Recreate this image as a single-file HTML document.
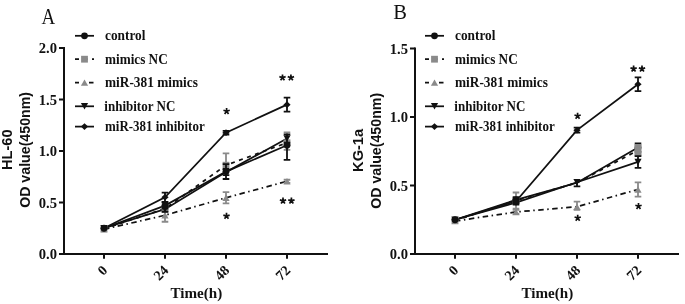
<!DOCTYPE html>
<html><head><meta charset="utf-8"><style>
html,body{margin:0;padding:0;background:#fff;}
svg{display:block;will-change:transform;filter:blur(0.35px);}
</style></head><body>
<svg width="685" height="304" viewBox="0 0 685 304">
<rect width="685" height="304" fill="#fff"/>
<text transform="translate(48.45,23.6) scale(0.85,1)" text-anchor="middle" font-family="Liberation Serif, serif" font-size="22.3" fill="#111">A</text>
<path d="M64,47V255M63,254H328" stroke="#111" stroke-width="2" fill="none"/>
<path d="M59,48H64" stroke="#111" stroke-width="2"/>
<text x="57" y="53.1" text-anchor="end" font-family="Liberation Serif, serif" font-weight="bold" font-size="14.6" fill="#111">2.0</text>
<path d="M59,99.5H64" stroke="#111" stroke-width="2"/>
<text x="57" y="104.6" text-anchor="end" font-family="Liberation Serif, serif" font-weight="bold" font-size="14.6" fill="#111">1.5</text>
<path d="M59,151H64" stroke="#111" stroke-width="2"/>
<text x="57" y="156.1" text-anchor="end" font-family="Liberation Serif, serif" font-weight="bold" font-size="14.6" fill="#111">1.0</text>
<path d="M59,202.5H64" stroke="#111" stroke-width="2"/>
<text x="57" y="207.6" text-anchor="end" font-family="Liberation Serif, serif" font-weight="bold" font-size="14.6" fill="#111">0.5</text>
<path d="M59,254H64" stroke="#111" stroke-width="2"/>
<text x="57" y="259.1" text-anchor="end" font-family="Liberation Serif, serif" font-weight="bold" font-size="14.6" fill="#111">0.0</text>
<path d="M104,254V258.7" stroke="#111" stroke-width="2"/>
<text transform="translate(108.3,271.3) rotate(-45)" text-anchor="end" font-family="Liberation Serif, serif" font-weight="bold" font-size="14.2" fill="#111">0</text>
<path d="M165,254V258.7" stroke="#111" stroke-width="2"/>
<text transform="translate(169.3,271.3) rotate(-45)" text-anchor="end" font-family="Liberation Serif, serif" font-weight="bold" font-size="14.2" fill="#111">24</text>
<path d="M226,254V258.7" stroke="#111" stroke-width="2"/>
<text transform="translate(230.3,271.3) rotate(-45)" text-anchor="end" font-family="Liberation Serif, serif" font-weight="bold" font-size="14.2" fill="#111">48</text>
<path d="M287,254V258.7" stroke="#111" stroke-width="2"/>
<text transform="translate(291.3,271.3) rotate(-45)" text-anchor="end" font-family="Liberation Serif, serif" font-weight="bold" font-size="14.2" fill="#111">72</text>
<text x="196.4" y="297.8" text-anchor="middle" font-family="Liberation Serif, serif" font-weight="bold" font-size="15" textLength="51.8" lengthAdjust="spacingAndGlyphs" fill="#111">Time(h)</text>
<text transform="translate(12.3,149.7) rotate(-90)" text-anchor="middle" font-family="Liberation Sans, sans-serif" font-weight="bold" font-size="14.6" fill="#111">HL-60</text>
<text transform="translate(30,149.9) rotate(-90)" text-anchor="middle" font-family="Liberation Sans, sans-serif" font-weight="bold" font-size="14.2" fill="#111">OD value(450nm)</text>
<polyline points="104,228.25 165,205.59 226,171.6 287,145.23" stroke="#111" stroke-width="1.75" fill="none"/>
<polyline points="104,228.76 165,208.68 226,165.21 287,142.76" stroke="#111" stroke-width="1.75" fill="none" stroke-dasharray="4 4.5"/>
<polyline points="104,229.28 165,215.27 226,197.76 287,181.28" stroke="#111" stroke-width="1.75" fill="none" stroke-dasharray="5.5 3.5 1.5 3.5"/>
<polyline points="104,228.25 165,209.19 226,172.12 287,138.43" stroke="#111" stroke-width="1.75" fill="none"/>
<polyline points="104,228.25 165,197.25 226,132.67 287,104.65" stroke="#111" stroke-width="1.75" fill="none"/>
<rect x="100.6" y="225.36" width="6.8" height="6.8" fill="#8a8a8a"/>
<polygon points="104,226.08 107.6,232.48 100.4,232.48" fill="#8a8a8a"/>
<polygon points="100.4,225.05 107.6,225.05 104,231.45" fill="#111"/>
<polygon points="104,224.95 107.6,228.25 104,231.55 100.4,228.25" fill="#111"/>
<circle cx="104" cy="228.25" r="3.4" fill="#111"/>
<path d="M165,208.68V205.59M161.7,205.59H168.3M165,208.68V211.77M161.7,211.77H168.3" stroke="#8a8a8a" stroke-width="1.8" fill="none"/>
<rect x="161.6" y="205.28" width="6.8" height="6.8" fill="#8a8a8a"/>
<path d="M165,215.27V208.78M161.7,208.78H168.3M165,215.27V221.76M161.7,221.76H168.3" stroke="#8a8a8a" stroke-width="1.8" fill="none"/>
<polygon points="165,212.07 168.6,218.47 161.4,218.47" fill="#8a8a8a"/>
<path d="M165,209.19V206.62M161.7,206.62H168.3M165,209.19V211.77M161.7,211.77H168.3" stroke="#111" stroke-width="1.8" fill="none"/>
<polygon points="161.4,206 168.6,206 165,212.39" fill="#111"/>
<path d="M165,205.59V202.5M161.7,202.5H168.3M165,205.59V208.68M161.7,208.68H168.3" stroke="#111" stroke-width="1.8" fill="none"/>
<circle cx="165" cy="205.59" r="3.4" fill="#111"/>
<path d="M165,197.25V192.61M161.7,192.61H168.3M165,197.25V201.88M161.7,201.88H168.3" stroke="#111" stroke-width="1.8" fill="none"/>
<polygon points="165,193.95 168.6,197.25 165,200.55 161.4,197.25" fill="#111"/>
<path d="M226,165.21V153.37M222.7,153.37H229.3M226,165.21V171.39M222.7,171.39H229.3" stroke="#8a8a8a" stroke-width="1.8" fill="none"/>
<rect x="222.6" y="161.81" width="6.8" height="6.8" fill="#8a8a8a"/>
<path d="M226,197.76V192.1M222.7,192.1H229.3M226,197.76V203.43M222.7,203.43H229.3" stroke="#8a8a8a" stroke-width="1.8" fill="none"/>
<polygon points="226,194.56 229.6,200.96 222.4,200.96" fill="#8a8a8a"/>
<path d="M226,171.6V164.18M222.7,164.18H229.3M226,171.6V179.02M222.7,179.02H229.3" stroke="#111" stroke-width="1.8" fill="none"/>
<circle cx="226" cy="171.6" r="3.4" fill="#111"/>
<path d="M226,172.12V169.02M222.7,169.02H229.3M226,172.12V175.2M222.7,175.2H229.3" stroke="#111" stroke-width="1.8" fill="none"/>
<polygon points="222.4,168.92 229.6,168.92 226,175.31" fill="#111"/>
<path d="M226,132.67V130.81M222.7,130.81H229.3M226,132.67V134.52M222.7,134.52H229.3" stroke="#111" stroke-width="1.8" fill="none"/>
<polygon points="226,129.37 229.6,132.67 226,135.97 222.4,132.67" fill="#111"/>
<path d="M287,142.76V132.46M283.7,132.46H290.3M287,142.76V149.97M283.7,149.97H290.3" stroke="#8a8a8a" stroke-width="1.8" fill="none"/>
<rect x="283.6" y="139.36" width="6.8" height="6.8" fill="#8a8a8a"/>
<path d="M287,181.28V179.74M283.7,179.74H290.3M287,181.28V182.83M283.7,182.83H290.3" stroke="#8a8a8a" stroke-width="1.8" fill="none"/>
<polygon points="287,178.08 290.6,184.48 283.4,184.48" fill="#8a8a8a"/>
<path d="M287,145.23V159.96M283.7,159.96H290.3" stroke="#111" stroke-width="1.8" fill="none"/>
<circle cx="287" cy="145.23" r="3.4" fill="#111"/>
<path d="M287,138.43V134.31M283.7,134.31H290.3M287,138.43V142.55M283.7,142.55H290.3" stroke="#111" stroke-width="1.8" fill="none"/>
<polygon points="283.4,135.23 290.6,135.23 287,141.63" fill="#111"/>
<path d="M287,104.65V97.65M283.7,97.65H290.3M287,104.65V111.65M283.7,111.65H290.3" stroke="#111" stroke-width="1.8" fill="none"/>
<polygon points="287,101.35 290.6,104.65 287,107.95 283.4,104.65" fill="#111"/>
<path d="M75,35.8H94" stroke="#111" stroke-width="1.75"/>
<circle cx="84.5" cy="35.8" r="3.4" fill="#111"/>
<text x="105" y="40.2" font-family="Liberation Serif, serif" font-weight="bold" font-size="13.6" textLength="40.47" lengthAdjust="spacingAndGlyphs" fill="#111">control</text>
<path d="M75,59.2H94" stroke="#111" stroke-width="1.75" stroke-dasharray="4 4.5"/>
<rect x="81.1" y="55.8" width="6.8" height="6.8" fill="#8a8a8a"/>
<text x="105" y="63.6" font-family="Liberation Serif, serif" font-weight="bold" font-size="13.6" textLength="62.68" lengthAdjust="spacingAndGlyphs" fill="#111">mimics NC</text>
<path d="M75,82.6H79M89,82.6H93.5" stroke="#111" stroke-width="1.75"/>
<polygon points="84.5,79.4 88.1,85.8 80.9,85.8" fill="#8a8a8a"/>
<text x="105" y="87" font-family="Liberation Serif, serif" font-weight="bold" font-size="13.6" textLength="92.84" lengthAdjust="spacingAndGlyphs" fill="#111">miR-381 mimics</text>
<path d="M75,106.3H94" stroke="#111" stroke-width="1.75"/>
<polygon points="80.9,103.1 88.1,103.1 84.5,109.5" fill="#111"/>
<text x="104.3" y="110.7" font-family="Liberation Serif, serif" font-weight="bold" font-size="13.6" textLength="71.0" lengthAdjust="spacingAndGlyphs" fill="#111">inhibitor NC</text>
<path d="M75,126.6H94" stroke="#111" stroke-width="1.75"/>
<polygon points="84.5,123.3 88.1,126.6 84.5,129.9 80.9,126.6" fill="#111"/>
<text x="105" y="131" font-family="Liberation Serif, serif" font-weight="bold" font-size="13.6" textLength="99.65" lengthAdjust="spacingAndGlyphs" fill="#111">miR-381 inhibitor</text>
<path d="M226.6,111.3L226.6,108M226.6,111.3L229.74,110.28M226.6,111.3L228.54,113.97M226.6,111.3L224.66,113.97M226.6,111.3L223.46,110.28" stroke="#111" stroke-width="1.7" stroke-linecap="butt" fill="none"/>
<path d="M282.5,77.7L282.5,74.4M282.5,77.7L285.64,76.68M282.5,77.7L284.44,80.37M282.5,77.7L280.56,80.37M282.5,77.7L279.36,76.68" stroke="#111" stroke-width="1.7" stroke-linecap="butt" fill="none"/>
<path d="M290.9,77.7L290.9,74.4M290.9,77.7L294.04,76.68M290.9,77.7L292.84,80.37M290.9,77.7L288.96,80.37M290.9,77.7L287.76,76.68" stroke="#111" stroke-width="1.7" stroke-linecap="butt" fill="none"/>
<path d="M226.5,216.1L226.5,212.8M226.5,216.1L229.64,215.08M226.5,216.1L228.44,218.77M226.5,216.1L224.56,218.77M226.5,216.1L223.36,215.08" stroke="#111" stroke-width="1.7" stroke-linecap="butt" fill="none"/>
<path d="M283,200.9L283,197.6M283,200.9L286.14,199.88M283,200.9L284.94,203.57M283,200.9L281.06,203.57M283,200.9L279.86,199.88" stroke="#111" stroke-width="1.7" stroke-linecap="butt" fill="none"/>
<path d="M291.4,200.9L291.4,197.6M291.4,200.9L294.54,199.88M291.4,200.9L293.34,203.57M291.4,200.9L289.46,203.57M291.4,200.9L288.26,199.88" stroke="#111" stroke-width="1.7" stroke-linecap="butt" fill="none"/>
<text transform="translate(400,19.2) scale(1,1)" text-anchor="middle" font-family="Liberation Serif, serif" font-size="20.5" fill="#111">B</text>
<path d="M415,47.5V255M414,254H679" stroke="#111" stroke-width="2" fill="none"/>
<path d="M410,48.5H415" stroke="#111" stroke-width="2"/>
<text x="408" y="53.6" text-anchor="end" font-family="Liberation Serif, serif" font-weight="bold" font-size="14.6" fill="#111">1.5</text>
<path d="M410,117H415" stroke="#111" stroke-width="2"/>
<text x="408" y="122.1" text-anchor="end" font-family="Liberation Serif, serif" font-weight="bold" font-size="14.6" fill="#111">1.0</text>
<path d="M410,185.5H415" stroke="#111" stroke-width="2"/>
<text x="408" y="190.6" text-anchor="end" font-family="Liberation Serif, serif" font-weight="bold" font-size="14.6" fill="#111">0.5</text>
<path d="M410,254H415" stroke="#111" stroke-width="2"/>
<text x="408" y="259.1" text-anchor="end" font-family="Liberation Serif, serif" font-weight="bold" font-size="14.6" fill="#111">0.0</text>
<path d="M455,254V258.7" stroke="#111" stroke-width="2"/>
<text transform="translate(459.3,271.3) rotate(-45)" text-anchor="end" font-family="Liberation Serif, serif" font-weight="bold" font-size="14.2" fill="#111">0</text>
<path d="M516,254V258.7" stroke="#111" stroke-width="2"/>
<text transform="translate(520.3,271.3) rotate(-45)" text-anchor="end" font-family="Liberation Serif, serif" font-weight="bold" font-size="14.2" fill="#111">24</text>
<path d="M577,254V258.7" stroke="#111" stroke-width="2"/>
<text transform="translate(581.3,271.3) rotate(-45)" text-anchor="end" font-family="Liberation Serif, serif" font-weight="bold" font-size="14.2" fill="#111">48</text>
<path d="M638,254V258.7" stroke="#111" stroke-width="2"/>
<text transform="translate(642.3,271.3) rotate(-45)" text-anchor="end" font-family="Liberation Serif, serif" font-weight="bold" font-size="14.2" fill="#111">72</text>
<text x="547.4" y="297.8" text-anchor="middle" font-family="Liberation Serif, serif" font-weight="bold" font-size="15" textLength="51.8" lengthAdjust="spacingAndGlyphs" fill="#111">Time(h)</text>
<text transform="translate(362.6,150.4) rotate(-90)" text-anchor="middle" font-family="Liberation Sans, sans-serif" font-weight="bold" font-size="14.6" fill="#111">KG-1a</text>
<text transform="translate(380.7,150.8) rotate(-90)" text-anchor="middle" font-family="Liberation Sans, sans-serif" font-weight="bold" font-size="14.2" fill="#111">OD value(450nm)</text>
<polyline points="455,219.75 516,199.88 577,182.76 638,147.55" stroke="#111" stroke-width="1.75" fill="none"/>
<polyline points="455,220.44 516,200.57 577,182.76 638,150.29" stroke="#111" stroke-width="1.75" fill="none" stroke-dasharray="4 4.5"/>
<polyline points="455,221.12 516,211.94 577,206.74 638,189.47" stroke="#111" stroke-width="1.75" fill="none" stroke-dasharray="5.5 3.5 1.5 3.5"/>
<polyline points="455,219.75 516,202.62 577,182.21 638,161.94" stroke="#111" stroke-width="1.75" fill="none"/>
<polyline points="455,219.75 516,201.25 577,130.15 638,84.26" stroke="#111" stroke-width="1.75" fill="none"/>
<rect x="451.6" y="217.03" width="6.8" height="6.8" fill="#8a8a8a"/>
<polygon points="455,217.92 458.6,224.32 451.4,224.32" fill="#8a8a8a"/>
<circle cx="455" cy="219.75" r="3.4" fill="#111"/>
<polygon points="455,216.45 458.6,219.75 455,223.05 451.4,219.75" fill="#111"/>
<polygon points="451.4,216.55 458.6,216.55 455,222.95" fill="#111"/>
<path d="M516,200.57V192.49M512.7,192.49H519.3M516,200.57V208.65M512.7,208.65H519.3" stroke="#8a8a8a" stroke-width="1.8" fill="none"/>
<rect x="512.6" y="197.17" width="6.8" height="6.8" fill="#8a8a8a"/>
<path d="M516,211.94V209.89M512.7,209.89H519.3M516,211.94V214M512.7,214H519.3" stroke="#8a8a8a" stroke-width="1.8" fill="none"/>
<polygon points="516,208.74 519.6,215.14 512.4,215.14" fill="#8a8a8a"/>
<path d="M516,199.88V197.14M512.7,197.14H519.3M516,199.88V202.62M512.7,202.62H519.3" stroke="#111" stroke-width="1.8" fill="none"/>
<circle cx="516" cy="199.88" r="3.4" fill="#111"/>
<path d="M516,202.62V200.57M512.7,200.57H519.3M516,202.62V204.68M512.7,204.68H519.3" stroke="#111" stroke-width="1.8" fill="none"/>
<polygon points="512.4,199.43 519.6,199.43 516,205.82" fill="#111"/>
<path d="M516,201.25V199.2M512.7,199.2H519.3M516,201.25V203.31M512.7,203.31H519.3" stroke="#111" stroke-width="1.8" fill="none"/>
<polygon points="516,197.95 519.6,201.25 516,204.56 512.4,201.25" fill="#111"/>

<path d="M577,206.74V201.67M573.7,201.67H580.3M577,206.74V209.89M573.7,209.89H580.3" stroke="#8a8a8a" stroke-width="1.8" fill="none"/>
<polygon points="577,203.54 580.6,209.94 573.4,209.94" fill="#8a8a8a"/>

<path d="M577,130.15V127.69M573.7,127.69H580.3M577,130.15V132.62M573.7,132.62H580.3" stroke="#111" stroke-width="1.8" fill="none"/>
<polygon points="577,126.85 580.6,130.15 577,133.45 573.4,130.15" fill="#111"/>
<path d="M577,182.21V186.39M573.7,186.39H580.3" stroke="#111" stroke-width="1.8" fill="none"/>
<polygon points="573.4,179.01 580.6,179.01 577,185.41" fill="#111"/>
<path d="M638,147.55V143.3M634.7,143.3H641.3M638,147.55V151.8M634.7,151.8H641.3" stroke="#111" stroke-width="1.8" fill="none"/>
<circle cx="638" cy="147.55" r="3.4" fill="#111"/>
<path d="M638,150.29V144.81M634.7,144.81H641.3M638,150.29V155.77M634.7,155.77H641.3" stroke="#8a8a8a" stroke-width="1.8" fill="none"/>
<rect x="634.5" y="144.3" width="7" height="11.2" fill="#8a8a8a"/>
<path d="M638,189.47V182.35M634.7,182.35H641.3M638,189.47V196.6M634.7,196.6H641.3" stroke="#8a8a8a" stroke-width="1.8" fill="none"/>
<polygon points="638,186.27 641.6,192.67 634.4,192.67" fill="#8a8a8a"/>
<path d="M638,161.94V156.04M634.7,156.04H641.3M638,161.94V167.83M634.7,167.83H641.3" stroke="#111" stroke-width="1.8" fill="none"/>
<polygon points="634.4,158.74 641.6,158.74 638,165.14" fill="#111"/>
<path d="M638,84.26V77.41M634.7,77.41H641.3M638,84.26V91.11M634.7,91.11H641.3" stroke="#111" stroke-width="1.8" fill="none"/>
<polygon points="638,80.96 641.6,84.26 638,87.56 634.4,84.26" fill="#111"/>
<path d="M425,35.8H444" stroke="#111" stroke-width="1.75"/>
<circle cx="434.5" cy="35.8" r="3.4" fill="#111"/>
<text x="455" y="40.2" font-family="Liberation Serif, serif" font-weight="bold" font-size="13.6" textLength="40.47" lengthAdjust="spacingAndGlyphs" fill="#111">control</text>
<path d="M425,59.2H444" stroke="#111" stroke-width="1.75" stroke-dasharray="4 4.5"/>
<rect x="431.1" y="55.8" width="6.8" height="6.8" fill="#8a8a8a"/>
<text x="455" y="63.6" font-family="Liberation Serif, serif" font-weight="bold" font-size="13.6" textLength="62.68" lengthAdjust="spacingAndGlyphs" fill="#111">mimics NC</text>
<path d="M425,82.6H429M439,82.6H443.5" stroke="#111" stroke-width="1.75"/>
<polygon points="434.5,79.4 438.1,85.8 430.9,85.8" fill="#8a8a8a"/>
<text x="455" y="87" font-family="Liberation Serif, serif" font-weight="bold" font-size="13.6" textLength="92.84" lengthAdjust="spacingAndGlyphs" fill="#111">miR-381 mimics</text>
<path d="M425,106.3H444" stroke="#111" stroke-width="1.75"/>
<polygon points="430.9,103.1 438.1,103.1 434.5,109.5" fill="#111"/>
<text x="454.3" y="110.7" font-family="Liberation Serif, serif" font-weight="bold" font-size="13.6" textLength="71.0" lengthAdjust="spacingAndGlyphs" fill="#111">inhibitor NC</text>
<path d="M425,126.6H444" stroke="#111" stroke-width="1.75"/>
<polygon points="434.5,123.3 438.1,126.6 434.5,129.9 430.9,126.6" fill="#111"/>
<text x="455" y="131" font-family="Liberation Serif, serif" font-weight="bold" font-size="13.6" textLength="99.65" lengthAdjust="spacingAndGlyphs" fill="#111">miR-381 inhibitor</text>
<path d="M577.6,116L577.6,112.7M577.6,116L580.74,114.98M577.6,116L579.54,118.67M577.6,116L575.66,118.67M577.6,116L574.46,114.98" stroke="#111" stroke-width="1.7" stroke-linecap="butt" fill="none"/>
<path d="M633.6,68.9L633.6,65.6M633.6,68.9L636.74,67.88M633.6,68.9L635.54,71.57M633.6,68.9L631.66,71.57M633.6,68.9L630.46,67.88" stroke="#111" stroke-width="1.7" stroke-linecap="butt" fill="none"/>
<path d="M642,68.9L642,65.6M642,68.9L645.14,67.88M642,68.9L643.94,71.57M642,68.9L640.06,71.57M642,68.9L638.86,67.88" stroke="#111" stroke-width="1.7" stroke-linecap="butt" fill="none"/>
<path d="M577.7,218L577.7,214.7M577.7,218L580.84,216.98M577.7,218L579.64,220.67M577.7,218L575.76,220.67M577.7,218L574.56,216.98" stroke="#111" stroke-width="1.7" stroke-linecap="butt" fill="none"/>
<path d="M638.5,206.3L638.5,203M638.5,206.3L641.64,205.28M638.5,206.3L640.44,208.97M638.5,206.3L636.56,208.97M638.5,206.3L635.36,205.28" stroke="#111" stroke-width="1.7" stroke-linecap="butt" fill="none"/>
</svg>
</body></html>
